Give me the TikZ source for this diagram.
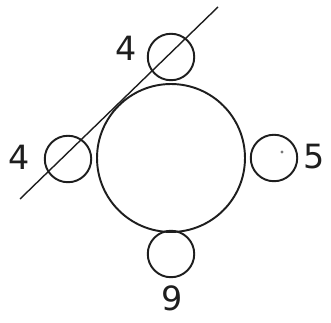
\documentclass[tikz,border=0pt]{standalone}
\usepackage{fontspec}
\setmainfont{DejaVu Sans}
\usetikzlibrary{positioning,calc}
\definecolor{ink}{RGB}{30,30,30}
\definecolor{fleck}{RGB}{120,120,120}
\tikzset{
  hub/.style={draw=ink, circle, minimum size=2.96cm, inner sep=0pt, line width=1.1pt},
  port/.style={draw=ink, circle, minimum size=0.93cm, inner sep=0pt, line width=1.1pt},
  num/.style={font=\fontsize{19}{19}\selectfont, text=ink, inner sep=0pt},
  cut/.style={line width=0.8pt, draw=ink},
}
\begin{document}
\begin{tikzpicture}[x=0.02cm, y=-0.02cm]
  \useasboundingbox (0,0) rectangle (331,323);
  \node[hub] (ring) at (171,158) {};
  \node[port] (ptop) at (171,57) {};
  \node[port] (pleft) at (68,159) {};
  \node[port] (pright) at (274,158) {};
  \node[port] (pbot) at (171,254) {};
  \node[num] (ltop) at (126,48) {4};
  \node[num] (lleft) at (19,157) {4};
  \node[num] (lright) at (314,157) {5};
  \node[num] (lbot) at (172,298) {9};
  \fill[fleck] (282,152) circle (1.6);
  \coordinate (cs) at (20,199);
  \coordinate (ce) at (218,7);
  \draw[cut] (cs) -- (ce);
\end{tikzpicture}
\end{document}
